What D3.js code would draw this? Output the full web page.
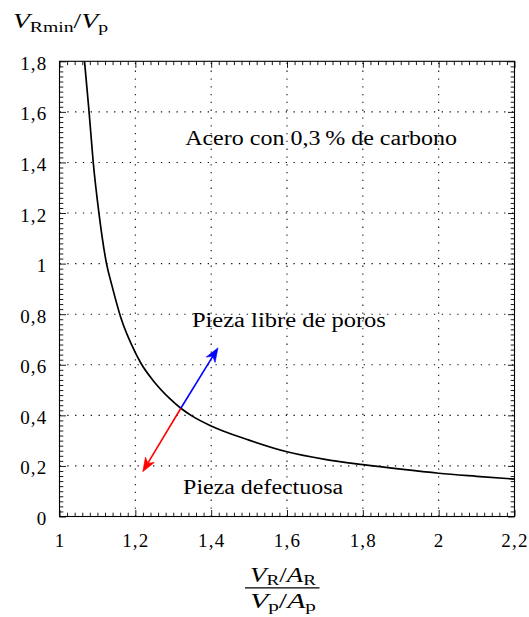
<!DOCTYPE html>
<html>
<head>
<meta charset="utf-8">
<script src="https://cdn.jsdelivr.net/npm/d3@7/dist/d3.min.js"></script>
<style>
  html, body { margin: 0; padding: 0; background: #fff; }
  svg { display: block; }
  svg text { font-family: "Liberation Serif", "DejaVu Serif", serif !important; fill: #000; }
</style>
</head>
<body>
<svg id="chart" width="529" height="617"></svg>
<script>
// ---------- data ----------
const xDomain = [1, 2.2];
const yDomain = [0, 1.8];
const xMajorTicks = [1, 1.2, 1.4, 1.6, 1.8, 2, 2.2];
const yMajorTicks = [0, 0.2, 0.4, 0.6, 0.8, 1, 1.2, 1.4, 1.6, 1.8];

// curve V_Rmin/V_p vs (V_R/A_R)/(V_p/A_p)
const curveX = [1.066, 1.078, 1.089, 1.104, 1.124, 1.138, 1.161, 1.2, 1.214, 1.25, 1.291, 1.32, 1.349, 1.4, 1.5, 1.6, 1.7, 1.8, 1.9, 2.0, 2.1, 2.2];
const curveY = [1.8, 1.6, 1.4, 1.2, 1.0, 0.915, 0.79, 0.648, 0.608, 0.532, 0.466, 0.428, 0.398, 0.358, 0.302, 0.256, 0.226, 0.205, 0.187, 0.171, 0.159, 0.148];

// arrows from the curve point
const arrowOrigin = [1.32, 0.428];
const arrowTips = [[1.418, 0.667], [1.2195, 0.177]];
const arrowColors = ["#0000ff", "#ff0000"];

// annotations: text, centre x, baseline y (data units), text width in px
const noteTexts = ["Acero con 0,3\u2009% de carbono", "Pieza libre de poros", "Pieza defectuosa"];
const noteX = [1.69, 1.605, 1.537];
const noteY = [1.469, 0.7505, 0.089];
const noteWidths = [272, 194, 160];

// ---------- layout ----------
const plot = { left: 59.5, right: 514.5, top: 61.3, bottom: 516.5 };
const FONT = '"Liberation Serif", "DejaVu Serif", serif';

const svg = d3.select("#chart");
const x = d3.scaleLinear().domain(xDomain).range([plot.left, plot.right]);
const y = d3.scaleLinear().domain(yDomain).range([plot.bottom, plot.top]);

const loc = d3.formatLocale({ decimal: ",", thousands: ".", grouping: [3], currency: ["", ""] });
const fmt = loc.format("~g");

const xMinor = x.ticks(60).filter(v => !xMajorTicks.some(m => Math.abs(m - v) < 1e-9));
const yMinor = y.ticks(90).filter(v => !yMajorTicks.some(m => Math.abs(m - v) < 1e-9));

// ---------- grid ----------
const grid = svg.append("g").attr("stroke", "#111").attr("stroke-width", 1.1)
  .attr("stroke-dasharray", "1.3,6.5").attr("fill", "none");
grid.selectAll("line.gx").data(xMajorTicks.slice(1, -1)).join("line")
  .attr("x1", d => x(d)).attr("x2", d => x(d))
  .attr("y1", y(yDomain[0])).attr("y2", y(yDomain[1]));
grid.selectAll("line.gy").data(yMajorTicks.slice(1, -1)).join("line")
  .attr("x1", x(xDomain[0])).attr("x2", x(xDomain[1]))
  .attr("y1", d => y(d)).attr("y2", d => y(d));

// ---------- axes (inward ticks, mirrored) ----------
function styleAxis(g) {
  g.attr("font-family", FONT);
  g.select(".domain").remove();
  g.selectAll(".tick line").attr("stroke", "#000").attr("stroke-width", 0.9);
}
const MAJ = 6.5, MIN = 3.8;
// bottom
svg.append("g").attr("transform", `translate(0,${plot.bottom})`)
  .call(d3.axisBottom(x).tickValues(xMinor).tickSize(-MIN).tickFormat(""))
  .call(styleAxis);
const xb = svg.append("g").attr("transform", `translate(0,${plot.bottom})`)
  .call(d3.axisBottom(x).tickValues(xMajorTicks).tickSize(-MAJ).tickPadding(0).tickFormat(fmt))
  .call(styleAxis);
xb.selectAll(".tick text").attr("font-size", 19).attr("dy", null).attr("y", 30.5)
  .attr("letter-spacing", 1.2);
// top
svg.append("g").attr("transform", `translate(0,${plot.top})`)
  .call(d3.axisTop(x).tickValues(xMinor).tickSize(-MIN).tickFormat(""))
  .call(styleAxis);
svg.append("g").attr("transform", `translate(0,${plot.top})`)
  .call(d3.axisTop(x).tickValues(xMajorTicks).tickSize(-MAJ).tickFormat(""))
  .call(styleAxis);
// left
svg.append("g").attr("transform", `translate(${plot.left},0)`)
  .call(d3.axisLeft(y).tickValues(yMinor).tickSize(-MIN).tickFormat(""))
  .call(styleAxis);
const yl = svg.append("g").attr("transform", `translate(${plot.left},0)`)
  .call(d3.axisLeft(y).tickValues(yMajorTicks).tickSize(-MAJ).tickPadding(0).tickFormat(fmt))
  .call(styleAxis);
yl.selectAll(".tick text").attr("font-size", 19).attr("dy", null).attr("x", -12).attr("y", 8)
  .attr("letter-spacing", 1.2);
// right
svg.append("g").attr("transform", `translate(${plot.right},0)`)
  .call(d3.axisRight(y).tickValues(yMinor).tickSize(-MIN).tickFormat(""))
  .call(styleAxis);
svg.append("g").attr("transform", `translate(${plot.right},0)`)
  .call(d3.axisRight(y).tickValues(yMajorTicks).tickSize(-MAJ).tickFormat(""))
  .call(styleAxis);

// frame
svg.append("rect")
  .attr("x", x(xDomain[0])).attr("y", y(yDomain[1]))
  .attr("width", x(xDomain[1]) - x(xDomain[0]))
  .attr("height", y(yDomain[0]) - y(yDomain[1]))
  .attr("fill", "none").attr("stroke", "#000").attr("stroke-width", 1.1);

// ---------- curve ----------
svg.append("clipPath").attr("id", "clip").append("rect")
  .attr("x", plot.left).attr("y", plot.top)
  .attr("width", plot.right - plot.left).attr("height", plot.bottom - plot.top);
const line = d3.line().x(d => x(d[0])).y(d => y(d[1])).curve(d3.curveMonotoneX);
svg.append("path")
  .datum(d3.zip(curveX, curveY))
  .attr("clip-path", "url(#clip)")
  .attr("d", line)
  .attr("fill", "none").attr("stroke", "#000").attr("stroke-width", 1.7);

// ---------- arrows ----------
arrowTips.forEach((tip, i) => {
  const x0 = x(arrowOrigin[0]), y0 = y(arrowOrigin[1]);
  const x1 = x(tip[0]), y1 = y(tip[1]);
  const dx = x1 - x0, dy = y1 - y0, len = Math.hypot(dx, dy);
  const ux = dx / len, uy = dy / len, px = -uy, py = ux;
  const L = 14, Wd = 5.2, back = 10;
  svg.append("line")
    .attr("x1", x0).attr("y1", y0)
    .attr("x2", x1 - ux * back).attr("y2", y1 - uy * back)
    .attr("stroke", arrowColors[i]).attr("stroke-width", 1.6);
  const pts = [
    [x1, y1],
    [x1 - ux * L + px * Wd, y1 - uy * L + py * Wd],
    [x1 - ux * back, y1 - uy * back],
    [x1 - ux * L - px * Wd, y1 - uy * L - py * Wd]
  ];
  svg.append("path")
    .attr("d", "M" + pts.map(p => p.join(",")).join("L") + "Z")
    .attr("fill", arrowColors[i]).attr("stroke", arrowColors[i]).attr("stroke-width", 0.6)
    .attr("stroke-linejoin", "miter");
});

// ---------- annotations ----------
noteTexts.forEach((t, i) => {
  svg.append("text")
    .attr("x", x(noteX[i]) - noteWidths[i] / 2)
    .attr("y", y(noteY[i]))
    .attr("font-size", 20)
    .attr("textLength", noteWidths[i])
    .attr("lengthAdjust", "spacingAndGlyphs")
    .text(t);
});

// ---------- axis titles ----------
const yt = svg.append("text").attr("x", 13).attr("y", 28).attr("font-size", 21)
  .attr("textLength", 95).attr("lengthAdjust", "spacingAndGlyphs");
yt.append("tspan").attr("font-style", "italic").text("V");
yt.append("tspan").attr("font-size", 15).attr("dy", 4).text("Rmin");
yt.append("tspan").attr("dy", -4).text("/");
yt.append("tspan").attr("font-style", "italic").text("V");
yt.append("tspan").attr("font-size", 15).attr("dy", 4).text("p");

const num = svg.append("text").attr("x", 250).attr("y", 581.7).attr("font-size", 21)
  .attr("textLength", 66).attr("lengthAdjust", "spacingAndGlyphs");
num.append("tspan").attr("font-style", "italic").text("V");
num.append("tspan").attr("font-size", 15).attr("dy", 3).text("R");
num.append("tspan").attr("dy", -3).text("/");
num.append("tspan").attr("font-style", "italic").text("A");
num.append("tspan").attr("font-size", 15).attr("dy", 3).text("R");

svg.append("line").attr("x1", 245).attr("x2", 319.5).attr("y1", 587.8).attr("y2", 587.8)
  .attr("stroke", "#000").attr("stroke-width", 1.2);

const den = svg.append("text").attr("x", 250).attr("y", 608.3).attr("font-size", 21)
  .attr("textLength", 66).attr("lengthAdjust", "spacingAndGlyphs");
den.append("tspan").attr("font-style", "italic").text("V");
den.append("tspan").attr("font-size", 15).attr("dy", 3).text("p");
den.append("tspan").attr("dy", -3).text("/");
den.append("tspan").attr("font-style", "italic").text("A");
den.append("tspan").attr("font-size", 15).attr("dy", 3).text("p");
</script>
</body>
</html>
